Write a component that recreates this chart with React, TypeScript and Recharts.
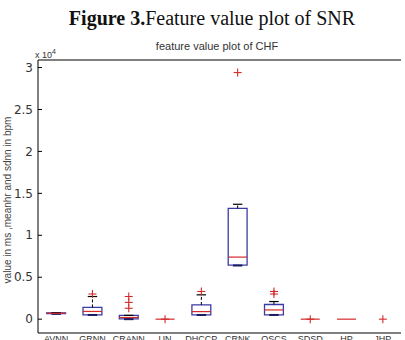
import React from 'react';
import {
  ComposedChart,
  ReferenceArea,
  ReferenceLine,
  Scatter,
  XAxis,
  YAxis,
} from 'recharts';

// one entry per box, values in units of 10^4
const categories = ['AVNN', 'GRNN', 'CRANN', 'UN', 'DHCCP', 'CRNK', 'OSCS', 'SDSD', 'HP', 'JHP'];
const q1 = [0.065, 0.05, 0.003, 0, 0.05, 0.645, 0.05, 0, 0, null];
const medians = [0.07, 0.092, 0.02, 0, 0.09, 0.74, 0.11, 0, 0, null];
const q3 = [0.075, 0.14, 0.045, 0, 0.17, 1.32, 0.175, 0, 0, null];
const whiskerLow = [0.063, 0.05, 0.0, 0, 0.05, 0.64, 0.05, 0, 0, null];
const whiskerHigh = [0.077, 0.27, 0.045, 0, 0.29, 1.37, 0.21, 0, 0, null];

// outliers: box number and value
const outlierBox = [2, 3, 3, 3, 4, 5, 6, 7, 7, 8, 10];
const outlierValue = [0.3, 0.27, 0.2, 0.13, 0, 0.33, 2.94, 0.3, 0.33, 0, 0];

const yTicks = [0, 0.5, 1, 1.5, 2, 2.5, 3];
const yDomain: [number, number] = [-0.165, 3.09];
const xTicks = categories.map((_, i) => i + 1);

const BOX_BLUE = '#3b3ba6';
const RED = '#d42a2a';
const HALF = 0.26;

const medianPoints = categories
  .map((_, i) => ({ x: i + 1, y: medians[i] }))
  .filter((d) => d.y !== null);
const outlierPoints = outlierBox.map((b, i) => ({ x: b, y: outlierValue[i] }));

function MedianShape(props: any) {
  const { cx, cy } = props;
  return <line x1={cx - 9.5} x2={cx + 9.5} y1={cy} y2={cy} stroke={RED} strokeWidth={1.2} />;
}

function PlusShape(props: any) {
  const { cx, cy } = props;
  return (
    <g stroke={RED} strokeWidth={1.1}>
      <line x1={cx - 4} x2={cx + 4} y1={cy} y2={cy} />
      <line x1={cx} x2={cx} y1={cy - 4} y2={cy + 4} />
    </g>
  );
}

function YTick(props: any) {
  const { x, y, payload } = props;
  return (
    <g>
      <text x={x} y={y} dy="0.35em" textAnchor="end" fontSize={12} fill="#333" fontFamily="DejaVu Sans, sans-serif">
        {String(payload.value)}
      </text>
      <line x1={x + 5} x2={x + 9} y1={y} y2={y} stroke="#000" />
    </g>
  );
}

export default function App() {
  return (
    <div
      style={{
        position: 'absolute',
        left: 0,
        top: 0,
        width: 405,
        height: 340,
        overflow: 'hidden',
        background: '#fff',
        fontFamily: '"Liberation Sans", Arial, sans-serif',
      }}
    >
      <div
        style={{
          position: 'absolute',
          left: 212,
          top: 7,
          transform: 'translateX(-50%)',
          whiteSpace: 'nowrap',
          fontFamily: '"Liberation Serif", "Times New Roman", serif',
          fontSize: 20,
          color: '#111',
        }}
      >
        <b>Figure 3.</b>Feature value plot of SNR
      </div>
      <div
        style={{
          position: 'absolute',
          left: 217,
          top: 41,
          transform: 'translateX(-50%)',
          whiteSpace: 'nowrap',
          fontSize: 11,
          lineHeight: '11px',
          color: '#333',
        }}
      >
        feature value plot of CHF
      </div>
      <div
        style={{
          position: 'absolute',
          left: 35,
          top: 47,
          whiteSpace: 'nowrap',
          fontSize: 9,
          lineHeight: '9px',
          color: '#333',
        }}
      >
        x 10<sup style={{ fontSize: 7 }}>4</sup>
      </div>
      <div
        style={{
          position: 'absolute',
          left: 8,
          top: 200,
          transform: 'translate(-50%, -50%) rotate(-90deg)',
          whiteSpace: 'nowrap',
          fontSize: 10,
          lineHeight: '10px',
          color: '#444',
        }}
      >
        value in ms ,meanhr and sdnn in bpm
      </div>

      <ComposedChart width={405} height={360} margin={{ top: 60, right: 4, bottom: 0, left: 0 }}>
        <XAxis
          dataKey="x"
          type="number"
          domain={[0.5, 10.5]}
          ticks={xTicks}
          interval={0}
          allowDataOverflow
          height={27}
          tickSize={0}
          tickMargin={3}
          tickLine={false}
          axisLine={{ stroke: '#000' }}
          tick={{ fontSize: 9, fill: '#333' }}
          tickFormatter={(v: number) => categories[v - 1]}
        />
        <YAxis
          dataKey="y"
          type="number"
          domain={yDomain}
          ticks={yTicks}
          allowDataOverflow
          width={38}
          tickSize={0}
          tickMargin={5}
          axisLine={{ stroke: '#000' }}
          tick={<YTick />}
        />
        <ReferenceLine y={yDomain[1]} stroke="#000" />

        {categories.map((_, i) =>
          q1[i] !== null && q3[i] !== null && (q3[i] as number) > (q1[i] as number) ? (
            <ReferenceArea
              key={`box-${i}`}
              x1={i + 1 - HALF}
              x2={i + 1 + HALF}
              y1={q1[i] as number}
              y2={q3[i] as number}
              fill="#fff"
              fillOpacity={1}
              stroke={BOX_BLUE}
              strokeWidth={1.3}
            />
          ) : null,
        )}

        {categories.map((_, i) =>
          whiskerHigh[i] !== null && (whiskerHigh[i] as number) > (q3[i] as number) ? (
            <ReferenceLine
              key={`wh-${i}`}
              segment={[
                { x: i + 1, y: q3[i] as number },
                { x: i + 1, y: whiskerHigh[i] as number },
              ]}
              stroke="#000"
              strokeDasharray="3 2"
            />
          ) : null,
        )}

        {categories.map((_, i) =>
          whiskerHigh[i] !== null && (q3[i] as number) > (q1[i] as number) ? (
            <ReferenceLine
              key={`cap-hi-${i}`}
              segment={[
                { x: i + 1 - HALF / 2, y: whiskerHigh[i] as number },
                { x: i + 1 + HALF / 2, y: whiskerHigh[i] as number },
              ]}
              stroke="#000"
              strokeWidth={1.2}
            />
          ) : null,
        )}

        {categories.map((_, i) =>
          whiskerLow[i] !== null && (q3[i] as number) > (q1[i] as number) ? (
            <ReferenceLine
              key={`cap-lo-${i}`}
              segment={[
                { x: i + 1 - HALF / 2, y: whiskerLow[i] as number },
                { x: i + 1 + HALF / 2, y: whiskerLow[i] as number },
              ]}
              stroke="#1a1a60"
              strokeWidth={2}
            />
          ) : null,
        )}

        <Scatter data={medianPoints} dataKey="y" shape={<MedianShape />} isAnimationActive={false} />
        <Scatter data={outlierPoints} dataKey="y" shape={<PlusShape />} isAnimationActive={false} />
      </ComposedChart>
    </div>
  );
}
